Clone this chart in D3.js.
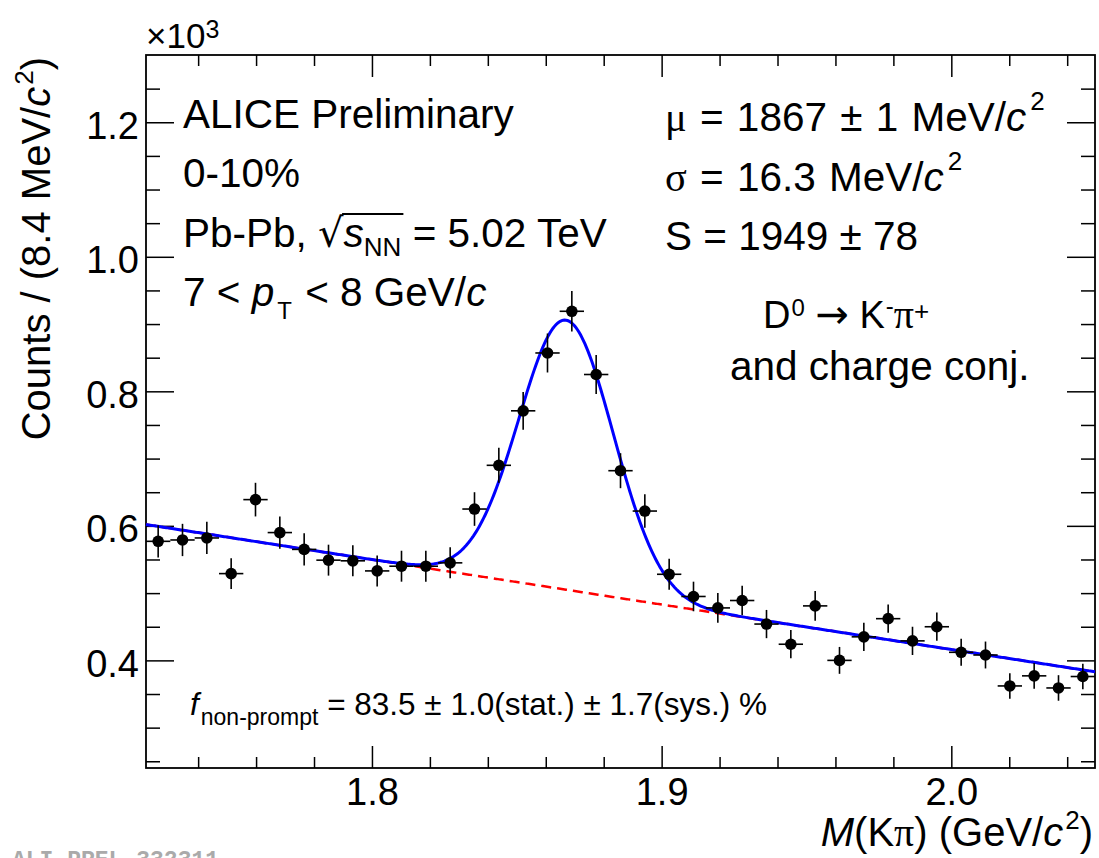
<!DOCTYPE html>
<html>
<head>
<meta charset="utf-8">
<script src="https://cdn.jsdelivr.net/npm/d3@7"></script>
<style>
  body { margin: 0; background: #fff; }
  svg text { font-family: "Liberation Sans", Arial, Helvetica, sans-serif; }
  .serif { font-family: "Liberation Serif", "Times New Roman", serif; }
</style>
</head>
<body>
<div id="chart"></div>
<script>
// invariant mass bin centres (GeV/c^2), 8.4 MeV/c^2 bins
const massCenters = [
    1.7262, 1.7346, 1.7430, 1.7514, 1.7598, 1.7682, 1.7766, 1.7850, 1.7934, 1.8018,
    1.8102, 1.8186, 1.8270, 1.8354, 1.8438, 1.8522, 1.8606, 1.8690, 1.8774, 1.8858,
    1.8942, 1.9026, 1.9110, 1.9194, 1.9278, 1.9362, 1.9446, 1.9530, 1.9614, 1.9698,
    1.9782, 1.9866, 1.9950, 2.0034, 2.0118, 2.0202, 2.0286, 2.0370, 2.0454
];
// counts per bin (x10^3)
const counts = [
    0.577, 0.579, 0.582, 0.529, 0.639, 0.590, 0.565, 0.549, 0.548, 0.533,
    0.540, 0.540, 0.545, 0.625, 0.690, 0.771, 0.857, 0.919, 0.825, 0.682,
    0.622, 0.528, 0.495, 0.478, 0.489, 0.454, 0.424, 0.481, 0.400, 0.435,
    0.462, 0.429, 0.450, 0.412, 0.408, 0.362, 0.377, 0.359, 0.376
];
const countErrors = [
    0.024, 0.024, 0.024, 0.023, 0.025, 0.024, 0.024, 0.023, 0.023, 0.023,
    0.023, 0.023, 0.023, 0.025, 0.026, 0.028, 0.029, 0.030, 0.029, 0.026,
    0.025, 0.023, 0.022, 0.022, 0.022, 0.021, 0.021, 0.022, 0.020, 0.021,
    0.021, 0.021, 0.021, 0.020, 0.020, 0.019, 0.019, 0.019, 0.019
];
const binWidth = 0.0084;

// fit results (gaussian signal + linear background)
const fitMean = 1.867;
const fitSigma = 0.0163;
const fitSignal = 1949;
const bkgAtEdges = [0.602, 0.383];

const xDomain = [1.722, 2.0496];
const yDomain = [0.24, 1.3];
const xMajorTicks = [1.8, 1.9, 2.0];
const yMajorTicks = [0.4, 0.6, 0.8, 1.0, 1.2];

const W = 1099, H = 858;
const margin = { top: 55, right: 4, bottom: 90, left: 146 };
const width = W - margin.left - margin.right;
const height = H - margin.top - margin.bottom;

const root = d3.select("#chart").append("svg")
    .attr("width", W)
    .attr("height", H);

const svg = root.append("g")
    .attr("transform", `translate(${margin.left},${margin.top})`);

const x = d3.scaleLinear().domain(xDomain).range([0, width]);
const y = d3.scaleLinear().domain(yDomain).range([height, 0]);

// minor ticks
const yMinorTicks = d3.range(5, 26).map(k => +(k * 0.05).toFixed(2))
    .filter(v => !yMajorTicks.some(m => Math.abs(m - v) < 1e-6));
const xMinorTicks = d3.range(87, 103).map(k => +(k * 0.02).toFixed(2))
    .filter(v => !xMajorTicks.some(m => Math.abs(m - v) < 1e-6));

function styleAxis(g) {
    g.select(".domain").remove();
    g.selectAll("line").attr("stroke", "#000").attr("stroke-width", 1.5);
}

// left axis
svg.append("g")
    .call(d3.axisLeft(y).tickValues(yMinorTicks).tickSize(-14).tickFormat(""))
    .call(styleAxis);
svg.append("g")
    .call(d3.axisLeft(y).tickValues(yMajorTicks).tickSize(-28).tickPadding(7).tickFormat(d3.format(".1f")))
    .call(styleAxis)
    .attr("font-size", 38)
    .selectAll("text").attr("dy", "0.42em");

// right axis
svg.append("g").attr("transform", `translate(${width},0)`)
    .call(d3.axisRight(y).tickValues(yMinorTicks).tickSize(-14).tickFormat(""))
    .call(styleAxis);
svg.append("g").attr("transform", `translate(${width},0)`)
    .call(d3.axisRight(y).tickValues(yMajorTicks).tickSize(-28).tickFormat(""))
    .call(styleAxis);

// bottom axis
svg.append("g").attr("transform", `translate(0,${height})`)
    .call(d3.axisBottom(x).tickValues(xMinorTicks).tickSize(-11).tickFormat(""))
    .call(styleAxis);
svg.append("g").attr("transform", `translate(0,${height})`)
    .call(d3.axisBottom(x).tickValues(xMajorTicks).tickSize(-22).tickPadding(10).tickFormat(d3.format(".1f")))
    .call(styleAxis)
    .attr("font-size", 38);

// top axis
svg.append("g")
    .call(d3.axisTop(x).tickValues(xMinorTicks).tickSize(-11).tickFormat(""))
    .call(styleAxis);
svg.append("g")
    .call(d3.axisTop(x).tickValues(xMajorTicks).tickSize(-22).tickFormat(""))
    .call(styleAxis);

// frame
svg.append("rect")
    .attr("width", width)
    .attr("height", height)
    .attr("fill", "none")
    .attr("stroke", "#000")
    .attr("stroke-width", 1.8);

// fit functions
const background = d3.scaleLinear().domain(xDomain).range(bkgAtEdges);
const gausAmp = fitSignal * binWidth / (Math.sqrt(2 * Math.PI) * fitSigma) / 1000;
const total = m => background(m) + gausAmp * Math.exp(-0.5 * Math.pow((m - fitMean) / fitSigma, 2));

const curveX = d3.range(xDomain[0], xDomain[1], 0.0005).concat([xDomain[1]]);
const line = f => d3.line().x(d => x(d)).y(d => y(f(d)));

svg.append("path")
    .datum(curveX)
    .attr("d", line(background))
    .attr("fill", "none")
    .attr("stroke", "#ff0000")
    .attr("stroke-width", 2.5)
    .attr("stroke-dasharray", "10,6");

svg.append("path")
    .datum(curveX)
    .attr("d", line(total))
    .attr("fill", "none")
    .attr("stroke", "#0000ff")
    .attr("stroke-width", 3);

// data points with error bars
const points = massCenters.map((m, i) => ({ m, v: counts[i], e: countErrors[i] }));

const pts = svg.append("g");
pts.selectAll(".ey").data(points).enter().append("line")
    .attr("x1", d => x(d.m)).attr("x2", d => x(d.m))
    .attr("y1", d => y(d.v - d.e)).attr("y2", d => y(d.v + d.e))
    .attr("stroke", "#000").attr("stroke-width", 1.6);
pts.selectAll(".ex").data(points).enter().append("line")
    .attr("x1", d => x(d.m - binWidth / 2)).attr("x2", d => x(d.m + binWidth / 2))
    .attr("y1", d => y(d.v)).attr("y2", d => y(d.v))
    .attr("stroke", "#000").attr("stroke-width", 1.6);
pts.selectAll("circle").data(points).enter().append("circle")
    .attr("cx", d => x(d.m))
    .attr("cy", d => y(d.v))
    .attr("r", 5.8)
    .attr("fill", "#000");

// ---- texts (page coordinates) ----
const txt = root.append("g").attr("fill", "#000");

// x10^3
const e3 = txt.append("text").attr("x", 146).attr("y", 48).attr("font-size", 35);
e3.append("tspan").text("×10");
e3.append("tspan").attr("font-size", 25).attr("dy", -10).text("3");

// y axis title
const yt = txt.append("text")
    .attr("transform", "translate(50,57) rotate(-90)")
    .attr("text-anchor", "end")
    .attr("font-size", 40);
yt.append("tspan").text("Counts / (8.4 MeV/");
yt.append("tspan").attr("font-style", "italic").text("c");
yt.append("tspan").attr("font-size", 26).attr("dy", -17).attr("dx", 2).text("2");
yt.append("tspan").attr("dy", 17).text(")");

// x axis title
const xt = txt.append("text")
    .attr("x", 1093).attr("y", 846)
    .attr("text-anchor", "end")
    .attr("font-size", 40);
xt.append("tspan").attr("font-style", "italic").text("M");
xt.append("tspan").text("(K");
xt.append("tspan").attr("class", "serif").text("π");
xt.append("tspan").text(") (GeV/");
xt.append("tspan").attr("font-style", "italic").text("c");
xt.append("tspan").attr("font-size", 26).attr("dy", -17).attr("dx", 2).text("2");
xt.append("tspan").attr("dy", 17).text(")");

// left info block
const info = txt.append("g").attr("font-size", 40.5);
info.append("text").attr("x", 183).attr("y", 128).text("ALICE Preliminary");
info.append("text").attr("x", 183).attr("y", 187).text("0-10%");

const pb = info.append("text").attr("x", 183).attr("y", 247);
pb.append("tspan").text("Pb-Pb, ");
pb.append("tspan").attr("font-family", "DejaVu Sans").attr("font-size", 40).text("√");
pb.append("tspan").attr("font-style", "italic").text("s");
pb.append("tspan").attr("font-size", 26).attr("dy", 9).text("NN");
pb.append("tspan").attr("dy", -9).text(" = 5.02 TeV");
{
    const node = pb.node();
    const r = node.getExtentOfChar(7);
    const xEnd = node.getEndPositionOfChar(10).x;
    info.append("line")
        .attr("x1", r.x + r.width - 1.5).attr("x2", xEnd + 2)
        .attr("y1", 214).attr("y2", 214)
        .attr("stroke", "#000").attr("stroke-width", 1.8);
}

const pt = info.append("text").attr("x", 183).attr("y", 306);
pt.append("tspan").text("7 < ");
pt.append("tspan").attr("font-style", "italic").text("p");
pt.append("tspan").attr("font-size", 24).attr("dy", 13).attr("dx", 3).text("T");
pt.append("tspan").attr("dy", -13).attr("dx", 2).text(" < 8 GeV/");
pt.append("tspan").attr("font-style", "italic").text("c");

// right info block
const fit = txt.append("g").attr("font-size", 40.5);
const mu = fit.append("text").attr("x", 665).attr("y", 131).attr("word-spacing", 2);
mu.append("tspan").attr("class", "serif").text("μ");
mu.append("tspan").text(" = 1867 ± 1 MeV/");
mu.append("tspan").attr("font-style", "italic").text("c");
mu.append("tspan").attr("font-size", 26).attr("dy", -21).attr("dx", 4).text("2");

const sg = fit.append("text").attr("x", 665).attr("y", 191).attr("word-spacing", 2);
sg.append("tspan").attr("class", "serif").text("σ");
sg.append("tspan").text(" = 16.3 MeV/");
sg.append("tspan").attr("font-style", "italic").text("c");
sg.append("tspan").attr("font-size", 26).attr("dy", -21).attr("dx", 4).text("2");

fit.append("text").attr("x", 665).attr("y", 250).text("S = 1949 ± 78");

const dk = fit.append("text").attr("x", 763).attr("y", 328).attr("font-size", 38);
dk.append("tspan").text("D");
dk.append("tspan").attr("font-size", 24).attr("dy", -12).attr("dx", 1).text("0");
dk.append("tspan").attr("dy", 12).text(" ");
dk.append("tspan").attr("font-family", "DejaVu Sans").attr("font-size", 40).text("→");
dk.append("tspan").text(" K");
dk.append("tspan").attr("font-size", 24).attr("dy", -14).attr("dx", 1).text("-");
dk.append("tspan").attr("class", "serif").attr("font-size", 40).attr("dy", 14).text("π");
dk.append("tspan").attr("font-size", 26).attr("dy", -8).text("+");

fit.append("text").attr("x", 730).attr("y", 380).text("and charge conj.");

// non-prompt fraction
const fnp = txt.append("text").attr("x", 190).attr("y", 715).attr("font-size", 31.5);
fnp.append("tspan").attr("font-style", "italic").text("f");
fnp.append("tspan").attr("font-size", 23).attr("dy", 10).attr("dx", 2).text("non-prompt");
fnp.append("tspan").attr("dy", -10).text(" = 83.5 ± 1.0(stat.) ± 1.7(sys.) %");

// preliminary id
txt.append("text")
    .attr("x", 12).attr("y", 867)
    .attr("font-size", 23)
    .attr("font-weight", "bold")
    .attr("fill", "#aaaaaa")
    .style("font-family", "'Liberation Mono', 'Courier New', monospace")
    .text("ALI-PREL-332311");
</script>
</body>
</html>
